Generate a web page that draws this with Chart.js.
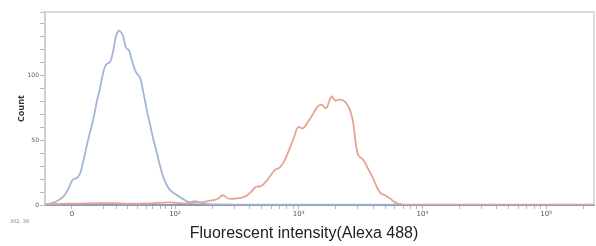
<!DOCTYPE html>
<html>
<head>
<meta charset="utf-8">
<script src="https://cdn.jsdelivr.net/npm/chart.js@4/dist/chart.umd.min.js"></script>
<style>
  html, body { margin: 0; padding: 0; background: #fff; }
  #wrap { position: relative; width: 596px; height: 246px; }
  #xtitle { position: absolute; left: 6px; top: 224px; width: 596px; text-align: center;
    font: 16px "Liberation Sans", Arial, sans-serif; color: #222; }
  #coords { position: absolute; left: 10px; top: 218px; font: 5px "DejaVu Sans", sans-serif; color: #888; }
</style>
</head>
<body>
<div id="wrap">
  <canvas id="chart"></canvas>
  <div id="coords">302, 38</div>
  <div id="xtitle">Fluorescent intensity(Alexa 488)</div>
</div>
<script>
// x positions are in display decades (10^2 -> 2, 10^3 -> 3 ...), biexponential near zero
var blueX = [0.949, 1.006, 1.054, 1.103, 1.135, 1.159, 1.175, 1.208, 1.232, 1.264, 1.297, 1.337, 1.369, 1.394,
  1.418, 1.442, 1.475, 1.499, 1.523, 1.543, 1.559, 1.580, 1.604, 1.628, 1.652, 1.685, 1.717, 1.741, 1.774,
  1.798, 1.826, 1.854, 1.879, 1.907, 1.935, 1.960, 2.008, 2.065, 2.121, 2.162, 2.194, 2.234, 2.323, 2.687,
  3.011, 5.387];
var blueCount = [0.5, 1.5, 3.5, 7, 12, 17, 19.5, 21, 24, 36, 50, 65, 80, 90,
  101, 108, 110, 118, 130, 134, 133.5, 130, 121, 119, 111, 102, 98, 88, 72,
  62, 50, 40, 30, 21, 15, 11.5, 8, 4.5, 2.2, 3, 2, 1, 0.4, 0.3,
  0.2, 0.2];

var orangeX = [0.949, 1.151, 1.313, 1.475, 1.636, 1.798, 1.960, 2.065, 2.202, 2.283, 2.340, 2.388, 2.428,
  2.493, 2.566, 2.614, 2.655, 2.695, 2.744, 2.808, 2.849, 2.889, 2.929, 2.962, 2.994, 3.035, 3.075, 3.116,
  3.156, 3.188, 3.221, 3.265, 3.293, 3.334, 3.374, 3.399, 3.415, 3.439, 3.463, 3.483, 3.520, 3.560, 3.593,
  3.617, 3.657, 3.698, 3.738, 3.779, 3.843, 3.981, 5.387];
var orangeCount = [0.5, 1, 1.2, 1.5, 1, 1.3, 2, 1.3, 2, 3.3, 4.4, 7.5, 5,
  5, 6.4, 10, 14, 14.5, 19, 27, 29, 35, 44, 52, 60, 59, 64, 70,
  76, 77, 74.5, 83.5, 80.5, 81, 79.5, 76, 73, 64, 46, 38, 35, 28, 22,
  17, 9.5, 7.5, 5, 2, 0.3, 0, 0];

var xMajorTicks = [1.167, 2, 3, 4, 5];
var xMajorLabels = ['0', '10²', '10³', '10⁴', '10⁵'];
var xLinearMinor = [1.418, 1.523, 1.612, 1.693, 1.766, 1.822, 1.879, 1.927, 1.968];
var yLabels = [0, 50, 100];

var xMinor = xLinearMinor.slice();
[2, 3, 4, 5].forEach(function(n) {
  for (var k = 2; k <= 9; k++) {
    var v = n + Math.log10(k);
    if (v < 5.38) xMinor.push(v);
  }
});

function pts(xs, ys) { return xs.map(function(x, i) { return { x: x, y: ys[i] }; }); }

var frame = {
  id: 'frame',
  beforeDatasetsDraw: function(chart) {
    var a = chart.chartArea, ctx = chart.ctx;
    ctx.save();
    ctx.strokeStyle = '#cfcfcf';
    ctx.lineWidth = 1.5;
    ctx.beginPath();
    ctx.moveTo(a.left, a.bottom);
    ctx.lineTo(a.left, a.top);
    ctx.lineTo(a.right, a.top);
    ctx.lineTo(a.right, a.bottom);
    ctx.stroke();
    ctx.restore();
  }
};

new Chart(document.getElementById('chart'), {
  type: 'line',
  data: {
    datasets: [
      { data: pts(orangeX, orangeCount), borderColor: '#e4a592', borderWidth: 1.8, pointRadius: 0, tension: 0.4, fill: false },
      { data: pts(blueX, blueCount), borderColor: '#a2b5d8', borderWidth: 1.8, pointRadius: 0, tension: 0.4, fill: false }
    ]
  },
  plugins: [frame],
  options: {
    responsive: true, maintainAspectRatio: false, animation: false,
    layout: { padding: { top: 12, right: 2, left: 0, bottom: 0 } },
    plugins: { legend: { display: false }, tooltip: { enabled: false } },
    scales: {
      x: {
        type: 'linear', min: 0.949, max: 5.387,
        afterFit: function(s) { s.height = 41; },
        afterBuildTicks: function(s) {
          s.ticks = xMajorTicks.concat(xMinor).sort(function(a, b) { return a - b; }).map(function(v) { return { value: v }; });
        },
        ticks: {
          autoSkip: false, maxRotation: 0, padding: 1, color: '#555', font: { size: 7, family: 'DejaVu Sans' },
          callback: function(v) {
            var i = xMajorTicks.indexOf(v);
            return i >= 0 ? xMajorLabels[i] : '';
          }
        },
        grid: { drawOnChartArea: false, drawTicks: true, tickLength: 4, color: '#b0b8c6' },
        border: { color: '#8e9db5', width: 2 }
      },
      y: {
        min: 0, max: 148.5,
        afterFit: function(s) { s.width = 45; },
        ticks: {
          stepSize: 10, padding: 1, color: '#555', font: { size: 6, family: 'DejaVu Sans' },
          callback: function(v) { return yLabels.indexOf(v) >= 0 ? String(v) : ''; }
        },
        grid: { drawOnChartArea: false, drawTicks: true, tickLength: 5, color: '#bbbbbb' },
        border: { color: '#c4c4c4', width: 1.5 },
        title: { display: true, text: 'Count', color: '#333', padding: { top: 16, bottom: 0 }, font: { size: 9, weight: 'bold', family: 'Open Sans' } }
      }
    }
  }
});
</script>
</body>
</html>
